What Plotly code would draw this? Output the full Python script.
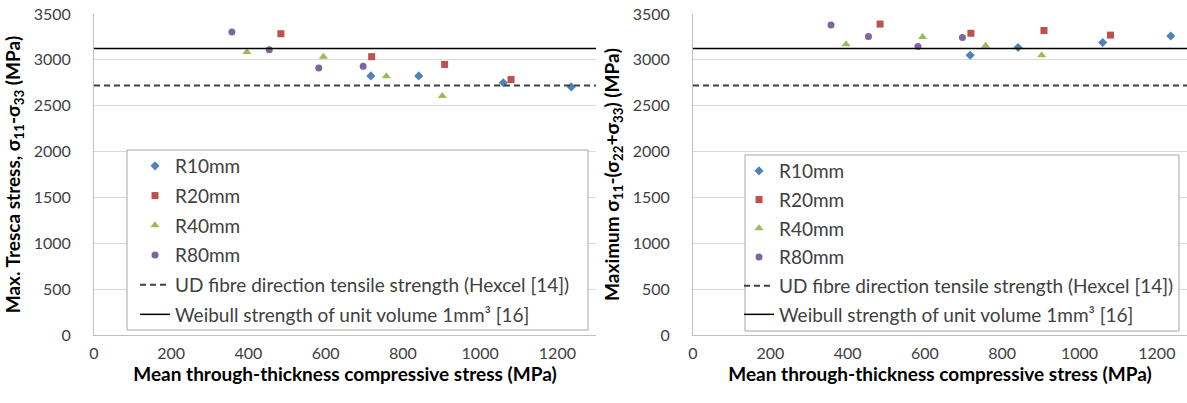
import plotly.graph_objects as go

W, H = 1187, 403

# mean through-thickness compressive stress (MPa), same specimens in both panels
x_r10 = [717, 841, 1060, 1236]
x_r20 = [484, 719, 908, 1080]
x_r40 = [396, 594, 757, 902]
x_r80 = [357, 454, 582, 697]

# left panel: max. Tresca stress (MPa)
tresca_r10 = [2825, 2825, 2750, 2705]
tresca_r20 = [3285, 3035, 2950, 2785]
tresca_r40 = [3085, 3035, 2820, 2605]
tresca_r80 = [3305, 3110, 2910, 2930]

# right panel: maximum s11-(s22+s33) (MPa)
maxs_r10 = [3050, 3135, 3190, 3260]
maxs_r20 = [3390, 3290, 3320, 3270]
maxs_r40 = [3170, 3250, 3155, 3050]
maxs_r80 = [3380, 3255, 3145, 3245]

# reference strengths (MPa)
ud_strength = 2720
weibull_strength = 3125
line_x = [0, 1300]

series_names = ["R10mm", "R20mm", "R40mm", "R80mm"]
ud_name = "UD fibre direction tensile strength (Hexcel [14])"
weibull_name = "Weibull strength of unit volume 1mm³ [16]"

FONT = "Lato"
FS = 19
TICK_FS = 16
colors = ["#4F81BD", "#C0504D", "#9BBB59", "#8064A2"]
symbols = ["diamond", "square", "triangle-up", "circle"]
sizes = [7, 7, 8, 7]

fig = go.Figure()

panels = [
    ("x", "y", "legend", [tresca_r10, tresca_r20, tresca_r40, tresca_r80]),
    ("x2", "y2", "legend2", [maxs_r10, maxs_r20, maxs_r40, maxs_r80]),
]
xs = [x_r10, x_r20, x_r40, x_r80]

for xa, ya, leg, ys in panels:
    for i in range(4):
        fig.add_trace(go.Scatter(
            x=xs[i], y=ys[i], mode="markers", name=series_names[i],
            xaxis=xa, yaxis=ya, legend=leg, legendgroup=leg + str(i),
            marker=dict(symbol=symbols[i], size=sizes[i], color=colors[i],
                        line=dict(width=0)),
        ))
    fig.add_trace(go.Scatter(
        x=line_x, y=[ud_strength, ud_strength], mode="lines", name=ud_name,
        xaxis=xa, yaxis=ya, legend=leg, legendgroup=leg + "ud",
        line=dict(color="#404040", width=2, dash="6px,4px"),
    ))
    fig.add_trace(go.Scatter(
        x=line_x, y=[weibull_strength, weibull_strength], mode="lines",
        name=weibull_name, xaxis=xa, yaxis=ya, legend=leg,
        legendgroup=leg + "wb", line=dict(color="#000000", width=1.5),
    ))

ybot = (H - 335) / H
ytop = (H - 14) / H

xaxis_common = dict(
    range=[0, 1300], tickvals=[0, 200, 400, 600, 800, 1000, 1200],
    showgrid=False, zeroline=False, showline=True, linecolor="#BFBFBF",
    ticks="outside", ticklen=4, tickcolor="rgba(0,0,0,0)",
    tickfont=dict(family=FONT, size=TICK_FS, color="#404040"),
    title=dict(text="<b>Mean through-thickness compressive stress (MPa)</b>",
               font=dict(family=FONT, size=FS, color="#000000"), standoff=2),
    automargin=False,
)
yaxis_common = dict(
    range=[0, 3500], dtick=500, tickformat="d",
    showgrid=True, gridcolor="#D9D9D9", gridwidth=1, zeroline=False,
    showline=True, linecolor="#BFBFBF",
    ticks="outside", ticklen=19, tickcolor="rgba(0,0,0,0)",
    tickfont=dict(family=FONT, size=TICK_FS, color="#404040"),
    domain=[ybot, ytop], automargin=False,
)

fig.update_layout(
    width=W, height=H,
    margin=dict(l=0, r=0, t=0, b=0),
    paper_bgcolor="white", plot_bgcolor="white",
    font=dict(family=FONT, size=FS, color="#404040"),
    xaxis=dict(xaxis_common, domain=[94 / W, 596 / W], anchor="y"),
    xaxis2=dict(xaxis_common, domain=[693 / W, 1.0], anchor="y2",
                range=[0, 1278]),
    yaxis=dict(yaxis_common, anchor="x",
               title=dict(text="<b>Max. Tresca stress, σ<sub>11</sub>-σ<sub>33</sub> (MPa)</b>",
                          font=dict(family=FONT, size=FS, color="#000000"),
                          standoff=8)),
    yaxis2=dict(yaxis_common, anchor="x2",
                title=dict(text="<b>Maximum σ<sub>11</sub>-(σ<sub>22</sub>+σ<sub>33</sub>) (MPa)</b>",
                           font=dict(family=FONT, size=FS, color="#000000"),
                           standoff=8)),
    legend=dict(x=135 / W, y=1 - 147 / H, xanchor="left", yanchor="top",
                bgcolor="rgba(0,0,0,0)", borderwidth=0, tracegroupgap=2,
                font=dict(family=FONT, size=FS, color="#404040")),
    legend2=dict(x=739 / W, y=1 - 152 / H, xanchor="left", yanchor="top",
                 bgcolor="rgba(0,0,0,0)", borderwidth=0, tracegroupgap=1,
                 font=dict(family=FONT, size=FS, color="#404040")),
    shapes=[
        dict(type="rect", xref="paper", yref="paper", layer="above",
             x0=127 / W, x1=588 / W, y0=1 - 330 / H, y1=1 - 150 / H,
             fillcolor="white", line=dict(color="#A6A6A6", width=1)),
        dict(type="rect", xref="paper", yref="paper", layer="above",
             x0=745 / W, x1=1179 / W, y0=1 - 331 / H, y1=1 - 155 / H,
             fillcolor="white", line=dict(color="#A6A6A6", width=1)),
    ],
)

# the page body has a default 8px margin; drop it so the chart sits at 0,0
fig.write_html("out.html", config={"displayModeBar": False},
               post_script="document.body.style.margin='0px';")
